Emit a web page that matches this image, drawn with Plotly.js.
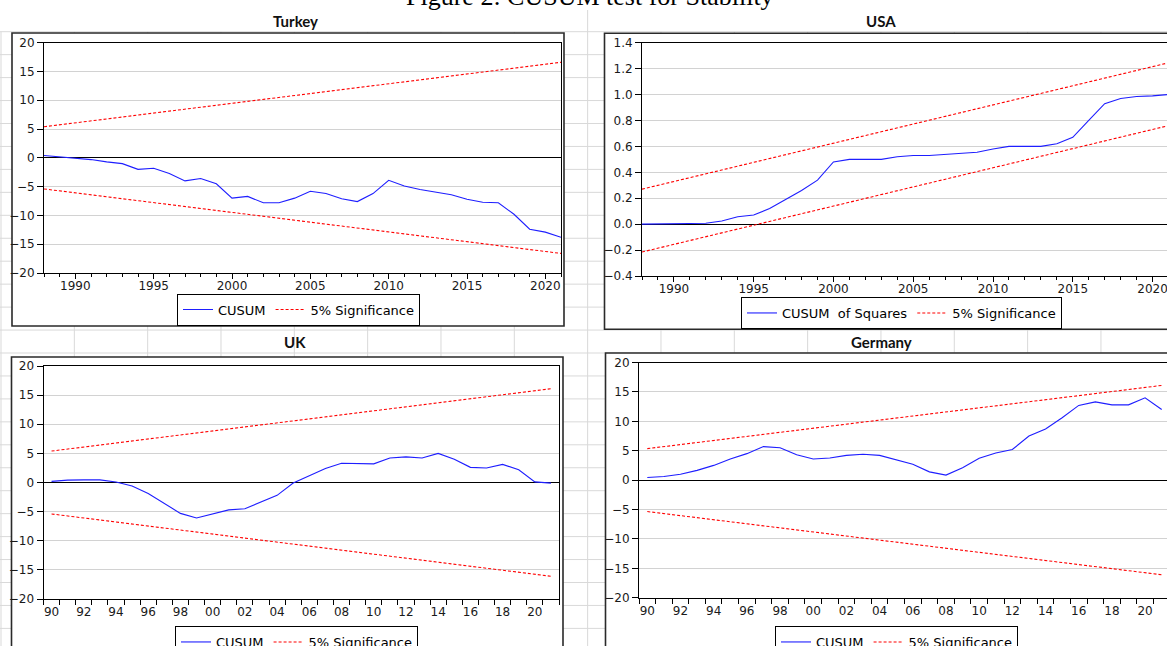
<!DOCTYPE html>
<html><head><meta charset="utf-8">
<script src="https://cdn.plot.ly/plotly-3.0.1.min.js"></script>
<style>
html,body{margin:0;padding:0;background:#fff;overflow:hidden;width:1167px;height:646px}
#wrap{position:relative;width:1167px;height:646px;overflow:hidden}
#chart{position:absolute;left:0;top:-20px}
</style>
</head><body><div id="wrap"><div id="chart"></div></div>
<script>
// ---------------- DATA ----------------
const pageTitle = "Figure 2: CUSUM test for Stability";
const panelTitles = ["Turkey", "USA", "UK", "Germany"];

const turkeyYears = [1988,1989,1990,1991,1992,1993,1994,1995,1996,1997,1998,1999,2000,2001,2002,2003,2004,2005,2006,2007,2008,2009,2010,2011,2012,2013,2014,2015,2016,2017,2018,2019,2020,2021];
const turkeyCusum = [0.4,0.2,0.0,-0.3,-0.7,-1.0,-2.0,-1.8,-2.7,-4.0,-3.6,-4.5,-7.0,-6.7,-7.8,-7.8,-7.0,-5.8,-6.2,-7.1,-7.6,-6.2,-3.9,-4.9,-5.5,-6.0,-6.4,-7.2,-7.7,-7.8,-9.8,-12.4,-12.9,-13.8];
const turkeyBandYears = [1988, 2021];
const turkeyUpper = [5.4, 16.6];
const turkeyLower = [-5.4, -16.6];

const usaYears = [1988,1989,1990,1991,1992,1993,1994,1995,1996,1997,1998,1999,2000,2001,2002,2003,2004,2005,2006,2007,2008,2009,2010,2011,2012,2013,2014,2015,2016,2017,2018,2019,2020,2021];
const usaCusumSq = [0.0,0.0,0.005,0.005,0.007,0.025,0.057,0.07,0.12,0.19,0.26,0.34,0.48,0.50,0.50,0.50,0.52,0.53,0.53,0.54,0.55,0.555,0.58,0.60,0.60,0.60,0.62,0.67,0.80,0.93,0.97,0.985,0.99,1.0];
const usaBandYears = [1988, 2021];
const usaUpper = [0.27, 1.245];
const usaLower = [-0.215, 0.76];

const ukYears = [1990,1991,1992,1993,1994,1995,1996,1997,1998,1999,2000,2001,2002,2003,2004,2005,2006,2007,2008,2009,2010,2011,2012,2013,2014,2015,2016,2017,2018,2019,2020,2021];
const ukCusum = [0.2,0.4,0.45,0.45,0.1,-0.6,-1.9,-3.6,-5.3,-6.1,-5.4,-4.7,-4.5,-3.4,-2.2,-0.1,1.1,2.4,3.3,3.3,3.2,4.2,4.4,4.2,5.0,4.0,2.6,2.5,3.1,2.2,0.1,-0.1];
const ukBandYears = [1990, 2021];
const ukUpper = [5.4, 16.1];
const ukLower = [-5.4, -16.1];

const germanyYears = [1990,1991,1992,1993,1994,1995,1996,1997,1998,1999,2000,2001,2002,2003,2004,2005,2006,2007,2008,2009,2010,2011,2012,2013,2014,2015,2016,2017,2018,2019,2020,2021];
const germanyCusum = [0.45,0.6,1.0,1.65,2.5,3.6,4.5,5.7,5.5,4.3,3.6,3.75,4.2,4.4,4.2,3.5,2.7,1.4,0.85,2.1,3.7,4.6,5.2,7.5,8.7,10.6,12.7,13.3,12.8,12.8,14.0,12.0];
const germanyBandYears = [1990, 2021];
const germanyUpper = [5.35, 16.1];
const germanyLower = [-5.35, -16.1];

const fullYearTicks = [1990,1995,2000,2005,2010,2015,2020];
const fullYearLabels = ["1990","1995","2000","2005","2010","2015","2020"];
const shortYearTicks = [1990,1992,1994,1996,1998,2000,2002,2004,2006,2008,2010,2012,2014,2016,2018,2020];
const shortYearLabels = ["90","92","94","96","98","00","02","04","06","08","10","12","14","16","18","20"];

const cusumName = "CUSUM";
const cusumSqName = "CUSUM  of Squares";
const sigName = "5% Significance";

// ---------------- LAYOUT HELPERS ----------------
// The figure is a little larger than the window: like the reference (a cropped
// screenshot), its right/bottom edges and the page title's top are cut off.
const OY = 20;              // figure pixels above the visible window
const W = 1190, H = 691;
const px = v => v / W;
const py = v => 1 - (v + OY) / H;
const dx = (a, b) => [a / W, b / W];
const dy = (top, bottom) => [1 - (bottom + OY) / H, 1 - (top + OY) / H];

const tickFont = {family: "DejaVu Sans, Arial, sans-serif", size: 12, color: "#1a1a1a"};
const BLUE = "rgb(30,30,255)";
const RED = "rgb(255,0,0)";

function xAxisFull(domain, range, anchor, minor0) {
  return {domain, range, anchor, showgrid: false, zeroline: false,
    showline: true, linecolor: "#000", linewidth: 1, mirror: true,
    tickmode: "array", tickvals: fullYearTicks, ticktext: fullYearLabels,
    ticks: "outside", ticklen: 5, tickcolor: "#000", tickwidth: 1,
    ticklabelstandoff: -3, ticklabeloverflow: "allow",
    minor: {tickmode: "linear", tick0: minor0, dtick: 1, ticks: "outside", ticklen: 3, tickcolor: "#000", showgrid: false},
    tickfont: tickFont, fixedrange: true};
}
function xAxisShort(domain, range, anchor) {
  return {domain, range, anchor, showgrid: false, zeroline: false,
    showline: true, linecolor: "#000", linewidth: 1, mirror: true,
    tickmode: "array", tickvals: shortYearTicks, ticktext: shortYearLabels,
    ticks: "outside", ticklen: 5, tickcolor: "rgba(0,0,0,0)", tickwidth: 1,
    ticklabelstandoff: -3, ticklabeloverflow: "allow",
    minor: {tickmode: "linear", tick0: 1989.5, dtick: 1, ticks: "outside", ticklen: 5, tickcolor: "#000", showgrid: false},
    tickfont: tickFont, fixedrange: true};
}
function yAxis(domain, range, dtick, anchor, fmt) {
  return {domain, range, anchor, tickmode: "linear", tick0: range[0], dtick,
    tickformat: fmt, showgrid: true, gridcolor: "#d2d2d2", gridwidth: 1,
    zeroline: true, zerolinecolor: "#000", zerolinewidth: 1,
    showline: true, linecolor: "#000", linewidth: 1, mirror: true,
    ticks: "outside", ticklen: 6, tickcolor: "#000", tickwidth: 1,
    tickfont: tickFont, fixedrange: true};
}
function legendAt(x, y, yanchor) {
  return {x: px(x), y: py(y), xanchor: "left", yanchor, orientation: "h",
    bgcolor: "#fff", bordercolor: "#000", borderwidth: 1,
    font: {family: "DejaVu Sans, Arial, sans-serif", size: 13, color: "#000"},
    itemwidth: 30, tracegroupgap: 0};
}
function bandTrace(years, upper, lower, xa, ya, lg) {
  return {x: years.concat([null], years), y: upper.concat([null], lower),
    xaxis: xa, yaxis: ya, legend: lg, name: sigName, mode: "lines",
    line: {color: RED, width: 1.1, dash: "3px,2px"}, connectgaps: false, hoverinfo: "skip"};
}
function lineTrace(x, y, name, xa, ya, lg) {
  return {x, y, xaxis: xa, yaxis: ya, legend: lg, name, mode: "lines",
    line: {color: BLUE, width: 1.1}, hoverinfo: "skip"};
}

const traces = [
  lineTrace(turkeyYears, turkeyCusum, cusumName, "x", "y", "legend"),
  bandTrace(turkeyBandYears, turkeyUpper, turkeyLower, "x", "y", "legend"),
  lineTrace(usaYears, usaCusumSq, cusumSqName, "x2", "y2", "legend2"),
  bandTrace(usaBandYears, usaUpper, usaLower, "x2", "y2", "legend2"),
  lineTrace(ukYears, ukCusum, cusumName, "x3", "y3", "legend3"),
  bandTrace(ukBandYears, ukUpper, ukLower, "x3", "y3", "legend3"),
  lineTrace(germanyYears, germanyCusum, cusumName, "x4", "y4", "legend4"),
  bandTrace(germanyBandYears, germanyUpper, germanyLower, "x4", "y4", "legend4")
];

// Excel-like sheet grid behind the pasted graphs
const shapes = [];
const gridColor = "#d9d9d9";
for (let k = 0; k * 73.33 + 1 < W; k++) {
  const xv = 1 + k * 73.33;
  shapes.push({type: "line", xref: "paper", yref: "paper", x0: px(xv), x1: px(xv), y0: py(k === 8 ? 10 : 31.7), y1: 0, line: {color: gridColor, width: 1}, layer: "below"});
}
for (let k = 0; 31.7 + k * 22.95 < H; k++) {
  const yv = 31.7 + k * 22.95;
  shapes.push({type: "line", xref: "paper", yref: "paper", x0: 0, x1: 1, y0: py(yv), y1: py(yv), line: {color: gridColor, width: 1}, layer: "below"});
}
// graph frames
const frames = [[12, 33, 564, 326], [604.5, 33.3, 1200, 329.3], [11.5, 357, 563, 700], [605.5, 353, 1200, 700]];
frames.forEach(f => shapes.push({type: "rect", xref: "paper", yref: "paper",
  x0: px(f[0]), x1: px(f[2]), y0: py(f[3]), y1: py(f[1]),
  fillcolor: "#fff", line: {color: "#2a2a2a", width: 1.6}, layer: "below"}));

const titleFont = {family: "Lato, 'Open Sans', sans-serif", size: 15, color: "#111", weight: "bold"};
const annotations = [
  {text: pageTitle, xref: "paper", yref: "paper", x: px(590), y: py(-4), xanchor: "center", yanchor: "middle", showarrow: false,
   font: {family: "Liberation Serif, 'Times New Roman', serif", size: 26, color: "#000"}},
  {text: "<b>" + panelTitles[0] + "</b>", xref: "paper", yref: "paper", x: px(295), y: py(21), xanchor: "center", yanchor: "middle", showarrow: false, font: titleFont},
  {text: "<b>" + panelTitles[1] + "</b>", xref: "paper", yref: "paper", x: px(881), y: py(21), xanchor: "center", yanchor: "middle", showarrow: false, font: titleFont},
  {text: "<b>" + panelTitles[2] + "</b>", xref: "paper", yref: "paper", x: px(295), y: py(342), xanchor: "center", yanchor: "middle", showarrow: false, font: titleFont},
  {text: "<b>" + panelTitles[3] + "</b>", xref: "paper", yref: "paper", x: px(881), y: py(342), xanchor: "center", yanchor: "middle", showarrow: false, font: titleFont}
];

const layout = {
  width: W, height: H, margin: {l: 0, r: 0, t: 0, b: 0},
  paper_bgcolor: "#fff", plot_bgcolor: "rgba(0,0,0,0)",
  showlegend: true, hovermode: false,
  xaxis: xAxisFull(dx(44, 561), [1988, 2021], "y", 1988),
  yaxis: yAxis(dy(42.7, 273), [-20, 20], 5, "x", "d"),
  xaxis2: xAxisFull(dx(642, 1168.5), [1988, 2021], "y2", 1988),
  yaxis2: yAxis(dy(42.7, 276), [-0.4, 1.4], 0.2, "x2", ".1f"),
  xaxis3: xAxisShort(dx(43.5, 559), [1989.5, 2021.5], "y3"),
  yaxis3: yAxis(dy(366, 599), [-20, 20], 5, "x3", "d"),
  xaxis4: xAxisShort(dx(639, 1170), [1989.5, 2021.5], "y4"),
  yaxis4: yAxis(dy(362.5, 597.7), [-20, 20], 5, "x4", "d"),
  legend: legendAt(177, 325.5, "bottom"),
  legend2: legendAt(741, 329, "bottom"),
  legend3: legendAt(175, 626, "top"),
  legend4: legendAt(775, 626, "top"),
  shapes, annotations
};

Plotly.newPlot("chart", traces, layout, {displayModeBar: false, staticPlot: true});
</script>
</body></html>
